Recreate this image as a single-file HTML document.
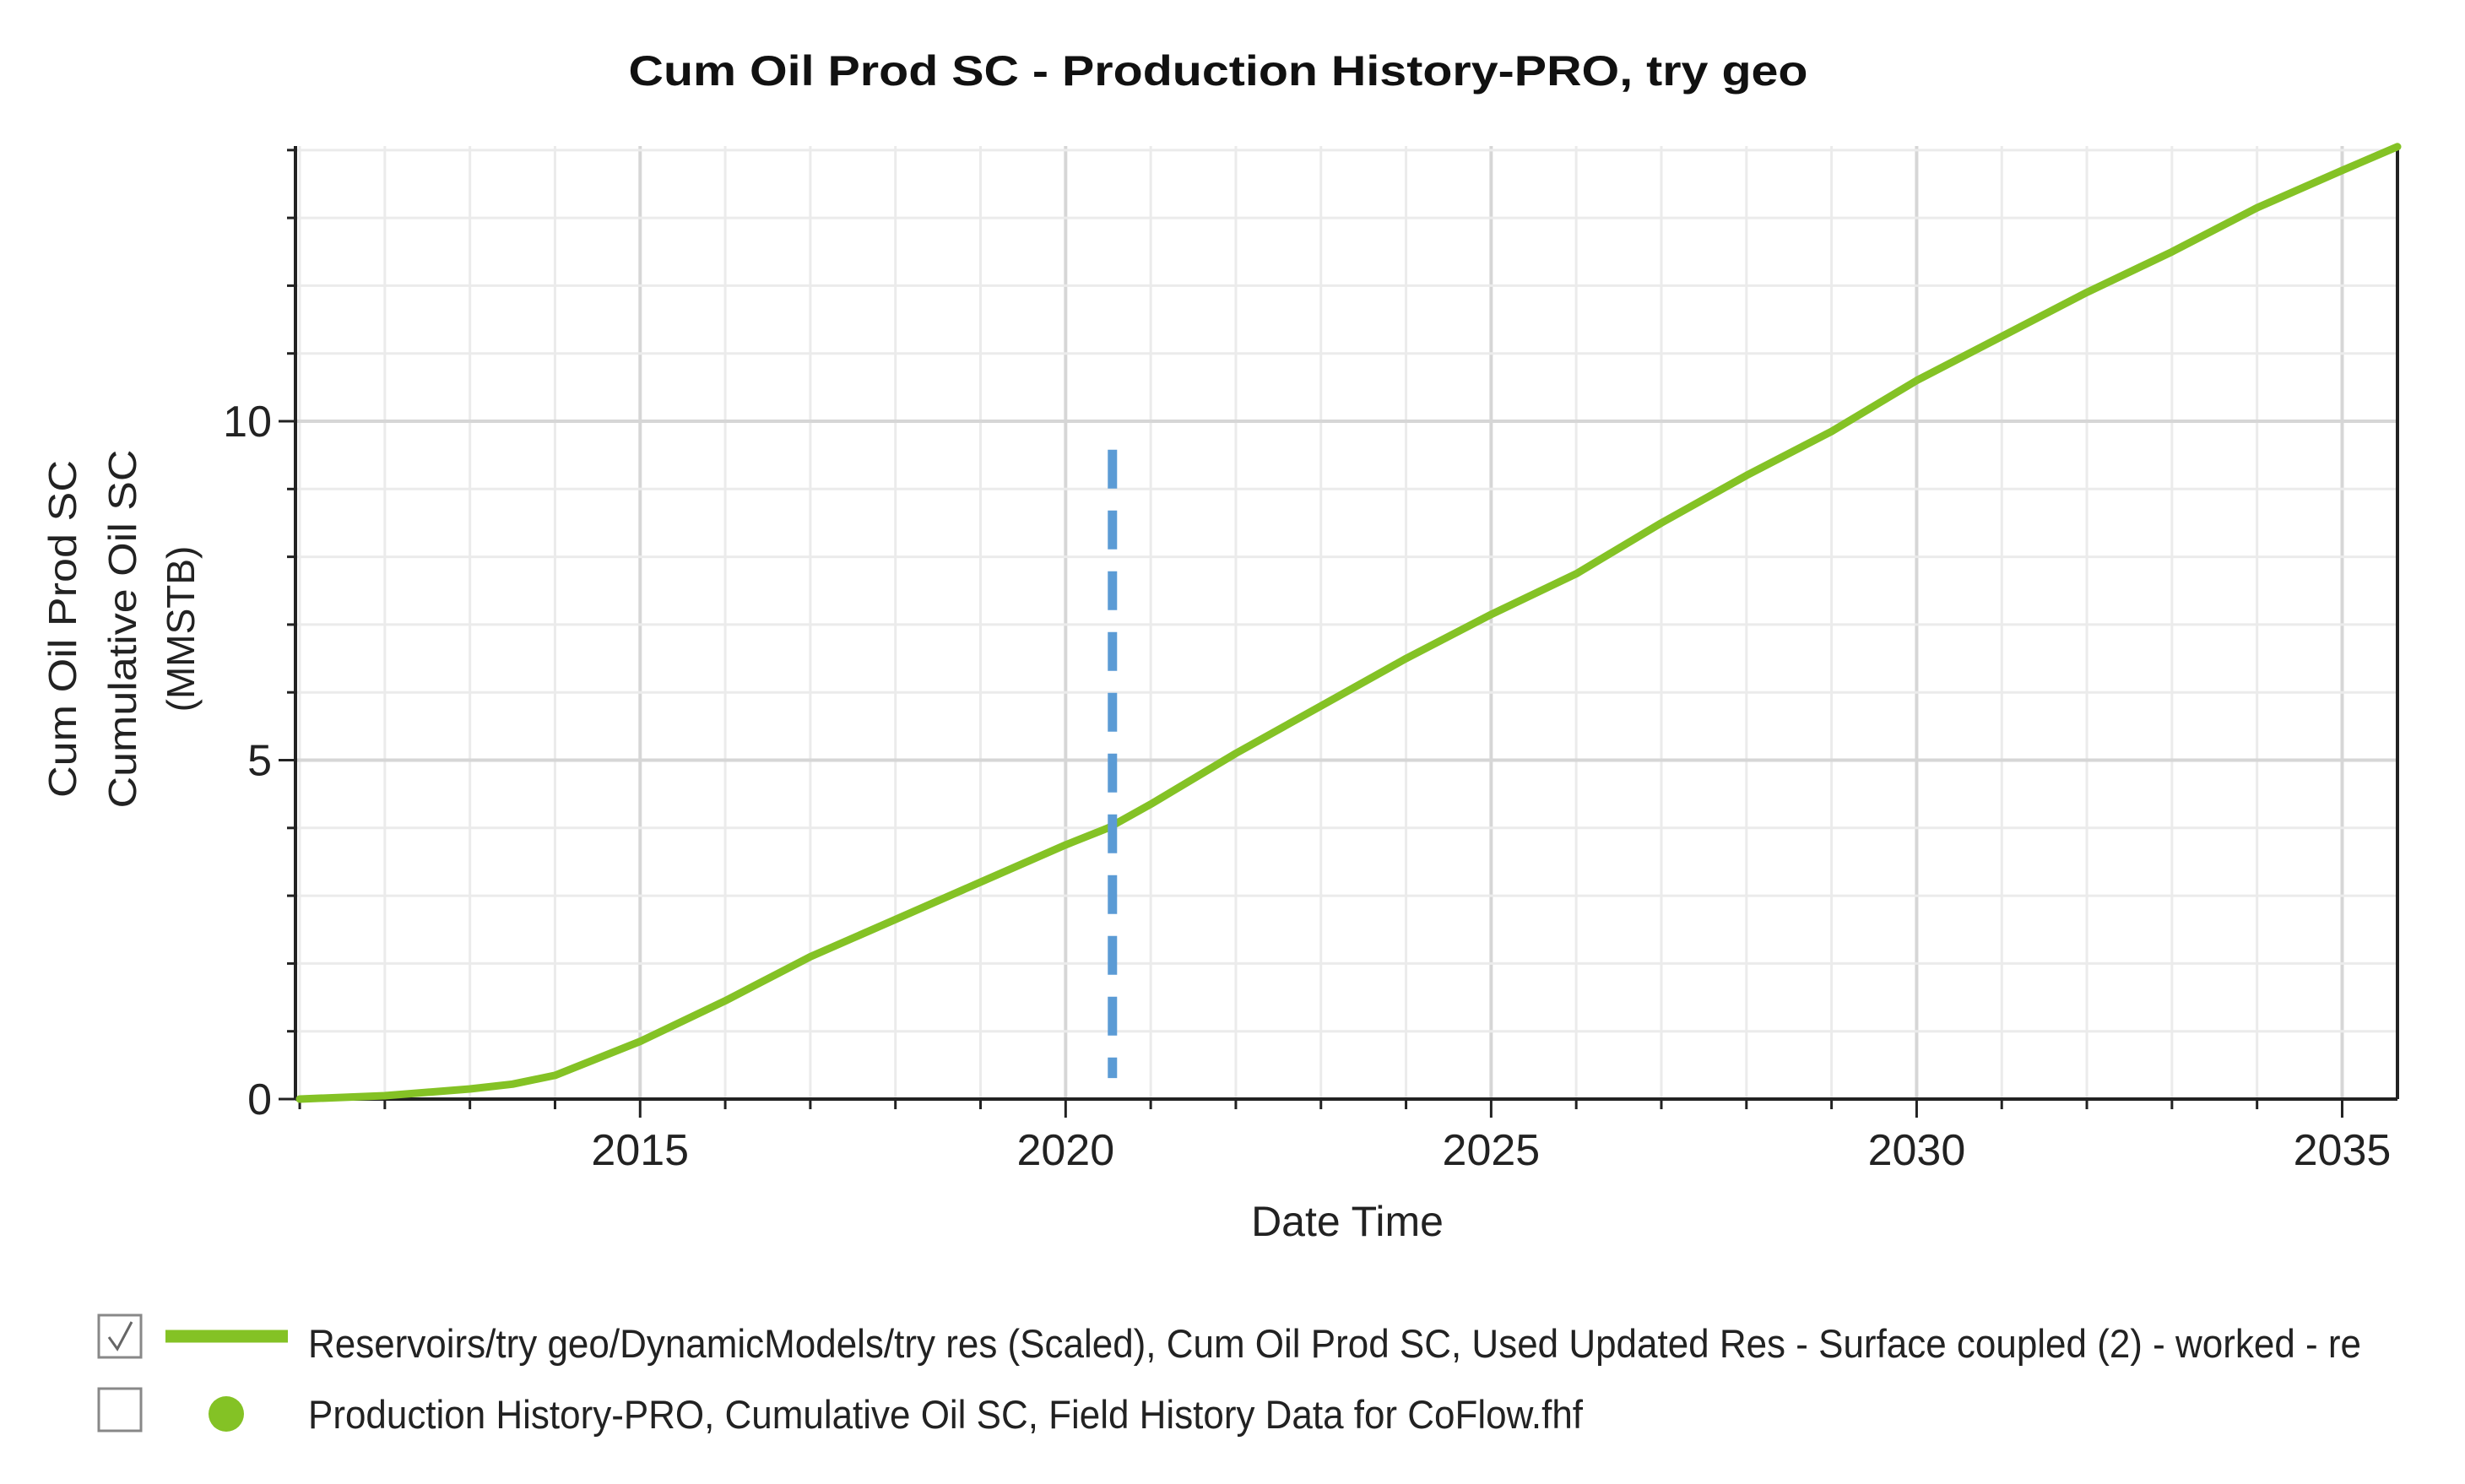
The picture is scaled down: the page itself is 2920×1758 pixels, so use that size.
<!DOCTYPE html>
<html><head><meta charset="utf-8"><style>
html,body{margin:0;padding:0;background:#fff;}
svg{display:block;font-family:"Liberation Sans",sans-serif;}
</style></head><body>
<svg id="chart" width="2920" height="1758" viewBox="0 0 2920 1758" xmlns="http://www.w3.org/2000/svg">
<text x="1443" y="101" text-anchor="middle" font-size="50" font-weight="bold" fill="#111" textLength="1397" lengthAdjust="spacingAndGlyphs">Cum Oil Prod SC - Production History-PRO, try geo</text>
<g id="grid"></g>
<g id="axes"></g>
<g id="series"></g>
<g transform="translate(0,745) rotate(-90)">
<text x="0" y="90" text-anchor="middle" font-size="46" fill="#222" textLength="400" lengthAdjust="spacingAndGlyphs">Cum Oil Prod SC</text>
<text x="0" y="161" text-anchor="middle" font-size="46" fill="#222" textLength="425" lengthAdjust="spacingAndGlyphs">Cumulative Oil SC</text>
<text x="0" y="230" text-anchor="middle" font-size="46" fill="#222">(MMSTB)</text>
</g>
<text x="1596" y="1464" text-anchor="middle" font-size="50" fill="#222">Date Time</text>
<g>
<g>
<rect x="117" y="1558" width="50" height="50" fill="#fff" stroke="#888" stroke-width="3"/>
<path d="M129 1584 L139 1598 L156 1566" fill="none" stroke="#666" stroke-width="3"/>
<line x1="196" y1="1583" x2="341" y2="1583" stroke="#84c225" stroke-width="15"/>
<text x="365" y="1608" font-size="47" fill="#222" textLength="2432" lengthAdjust="spacingAndGlyphs">Reservoirs/try geo/DynamicModels/try res (Scaled), Cum Oil Prod SC, Used Updated Res - Surface coupled (2) - worked - re</text>
</g>
<g>
<rect x="117" y="1645" width="50" height="50" fill="#fff" stroke="#888" stroke-width="3"/>
<circle cx="268" cy="1675" r="21" fill="#84c225"/>
<text x="365" y="1692" font-size="47" fill="#222" textLength="1510" lengthAdjust="spacingAndGlyphs">Production History-PRO, Cumulative Oil SC, Field History Data for CoFlow.fhf</text>
</g>
</g>
</svg>
<script>
const years = [2011,2012,2013,2013.5,2014,2015,2016,2017,2018,2019,2020,2020.5,2021,2022,2023,2024,2025,2026,2027,2028,2029,2030,2031,2032,2033,2034,2035,2035.65];
const cumOil = [0,0.05,0.15,0.22,0.35,0.85,1.45,2.1,2.65,3.2,3.75,4.0,4.35,5.1,5.8,6.5,7.15,7.75,8.5,9.2,9.85,10.6,11.25,11.9,12.5,13.15,13.7,14.05];
const yTickLabels = [0,5,10];
const xTickLabels = [2015,2020,2025,2030,2035];
const markerYear = [2020.55];
const markerRange = [0.31, 9.58];
const NS='http://www.w3.org/2000/svg';
const L=350,R=2840,T=173,B=1302,X0=2010.95,X1=2035.65,Y0=0,Y1=14.06;
const xs=v=>L+(v-X0)/(X1-X0)*(R-L);
const ys=v=>B-(v-Y0)/(Y1-Y0)*(B-T);
function mk(tag,attrs,parent){const e=document.createElementNS(NS,tag);for(const k in attrs)e.setAttribute(k,attrs[k]);parent.appendChild(e);return e;}
const grid=document.getElementById('grid'),axes=document.getElementById('axes'),series=document.getElementById('series');
for(let y=2011;y<=2035;y++){const x=xs(y);const major=y%5===0;
 const g=mk('line',{x1:x,y1:T,x2:x,y2:B,stroke:major?'#d6d6d6':'#ebebeb','stroke-width':major?4:3},grid);
 
 
 const t=mk('line',{x1:x,y1:B,x2:x,y2:B+(major?22:12),stroke:'#222','stroke-width':3},axes);
 
 }
for(let v=1;v<=14;v++){const y=ys(v);const major=v%5===0;
 const g=mk('line',{x1:L,y1:y,x2:R,y2:y,stroke:major?'#d6d6d6':'#ebebeb','stroke-width':major?4:3},grid);
 
 }
for(let v=0;v<=14;v++){const y=ys(v);const major=v%5===0;
 const t=mk('line',{x1:L-(major?20:10),y1:y,x2:L,y2:y,stroke:'#222','stroke-width':3},axes);
 
 }
yTickLabels.forEach(v=>{const t=mk('text',{x:L-28,y:ys(v)+18,'text-anchor':'end','font-size':52,fill:'#222'},axes);t.textContent=v;
 
 });
xTickLabels.forEach(v=>{const t=mk('text',{x:xs(v),y:B+78,'text-anchor':'middle','font-size':52,fill:'#222'},axes);t.textContent=v;
 
 });
[[L,T,L,B],[L,B,R,B],[R,T,R,B]].forEach(a=>{const l=mk('line',{x1:a[0],y1:a[1],x2:a[2],y2:a[3],stroke:'#222','stroke-width':4},axes);
 
 });
const d=years.map((y,i)=>(i?'L':'M')+xs(y).toFixed(1)+' '+ys(cumOil[i]).toFixed(1)).join(' ');
const p=mk('path',{d:d,fill:'none',stroke:'#84c225','stroke-width':9,'stroke-linejoin':'round','stroke-linecap':'round'},series);


const m=mk('line',{x1:xs(markerYear[0]),y1:ys(markerRange[1]),x2:xs(markerYear[0]),y2:ys(markerRange[0]),stroke:'#5b9bd5','stroke-width':11,'stroke-dasharray':'46 26'},series);


</script>
</body></html>
